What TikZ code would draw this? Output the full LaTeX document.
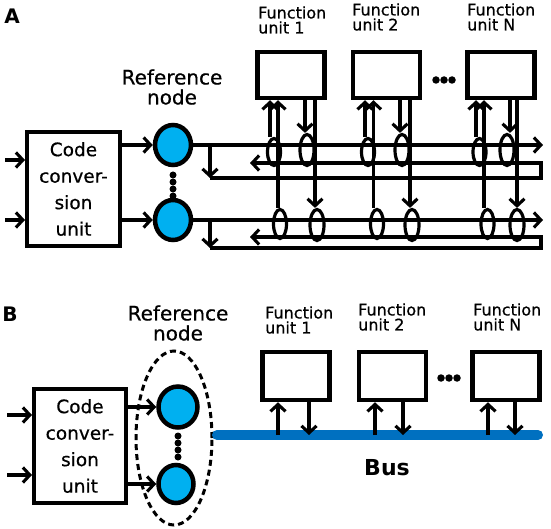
\documentclass[tikz,border=0pt]{standalone}
\usepackage{fontspec}
\setmainfont{DejaVu Sans}
\newfontfamily\lbl{DejaVu Sans}[FakeBold=0.6]
\usetikzlibrary{arrows.meta,shapes.geometric,calc}
\definecolor{nodeblue}{HTML}{00B0F0}
\definecolor{busblue}{HTML}{0070C0}
\begin{document}
\begin{tikzpicture}[x=1pt,y=-1pt,
  conn/.style={line width=3.1pt},
  arr/.style={conn,-{Straight Barb[length=7pt,width=15pt]}},
  codebox/.style={draw,line width=4pt,inner sep=0pt,align=center,
     font=\lbl\fontsize{18.5}{26.5}\selectfont},
  refnode/.style={ellipse,draw,line width=4.5pt,fill=nodeblue,inner sep=0pt},
  dotnode/.style={circle,fill=black,inner sep=0pt,minimum size=7pt},
  reflabel/.style={align=center,inner sep=0pt,font=\lbl\fontsize{20}{20}\selectfont},
  fubox/.style={draw,line width=4.5pt,minimum width=67pt,minimum height=46pt,inner sep=0pt},
  fulabel/.style={align=left,inner sep=0pt,anchor=west,font=\lbl\fontsize{16}{15}\selectfont},
  oval/.style={ellipse,draw,line width=3.2pt,inner sep=0pt},
  panel/.style={font=\bfseries\fontsize{20}{20}\selectfont,inner sep=0pt},
  bus/.style={line width=10pt,draw=busblue,line cap=round}
]
\useasboundingbox (0,0) rectangle (551,529);

% ================= Panel A =================
\node[panel] (labA) at (12,16) {A};
\node[codebox,minimum width=93pt,minimum height=114pt] (codeA) at (73.5,189) {Code\\conver-\\sion\\unit};
\node[refnode,minimum width=36pt,minimum height=40pt] (rA1) at (173,145) {};
\node[refnode,minimum width=36pt,minimum height=40pt] (rA2) at (173,220) {};
\foreach \i/\yy in {1/175,2/182,3/189,4/196}
  \node[dotnode] (dA\i) at (173,\yy) {};
\node[reflabel] (refA) at (172,87) {Reference\\node};

\coordinate (inA1) at (5,160);
\coordinate (inA2) at (5,220);
\draw[arr] (inA1) -- (inA1 -| codeA.west);
\draw[arr] (inA2) -- (inA2 -| codeA.west);
\draw[arr] (codeA.east |- rA1) -- (rA1.west);
\draw[arr] (codeA.east |- rA2) -- (rA2.west);

% top ring
\coordinate (tAf) at (543,145);
\coordinate (tAd1) at (210,145);
\coordinate (tAd2) at (210,178);
\coordinate (tAc1) at (541,178);
\coordinate (tAc2) at (541,163);
\coordinate (tAl) at (250,163);
\draw[arr] (rA1.east) -- (tAf);
\draw[arr] (tAd1) -- (tAd2);
\draw[arr] (tAd2) -- (tAc1) -- (tAc2) -- (tAl);
% bottom ring
\coordinate (bAf) at (543,220);
\coordinate (bAd1) at (210,220);
\coordinate (bAd2) at (210,248);
\coordinate (bAc1) at (541,248);
\coordinate (bAc2) at (541,237);
\coordinate (bAl) at (250,237);
\draw[arr] (rA2.east) -- (bAf);
\draw[arr] (bAd1) -- (bAd2);
\draw[arr] (bAd2) -- (bAc1) -- (bAc2) -- (bAl);

\foreach \k/\cx/\a/\b/\c/\d/\tl/\tr/\bl/\br/\lx/\ly in
  {1/291/270/278/305/315/274/307/280/317/258/20,
   2/386.5/365/373.5/400/410/368/402/377/412/352/17,
   N/501/476/484/510/517/479.5/507/487.5/517/467/17}{
  \node[fubox] (fA\k) at (\cx,75) {};
  \node[fulabel] (lA\k) at (\lx,\ly) {Function\\unit \k};
  \node[oval,minimum width=13pt,minimum height=27pt] (otlA\k) at (\tl,152) {};
  \node[oval,minimum width=14pt,minimum height=31pt] (otrA\k) at (\tr,150) {};
  \node[oval,minimum width=13pt,minimum height=29pt] (oblA\k) at (\bl,224) {};
  \node[oval,minimum width=14pt,minimum height=31pt] (obrA\k) at (\br,225) {};
  \draw[arr] (\a,0 |- otlA\k.north) -- (\a,0 |- fA\k.south);
  \draw[arr] (\b,0 |- oblA\k.north) -- (\b,0 |- fA\k.south);
  \draw[arr] (\c,0 |- fA\k.south) -- (\c,0 |- otrA\k.north);
  \draw[arr] (\d,0 |- fA\k.south) -- (\d,0 |- obrA\k.north);
}
\foreach \i/\xx in {1/436,2/444,3/452}
  \node[dotnode,minimum size=7.5pt] (eA\i) at (\xx,80) {};

% ================= Panel B =================
\node[panel] (labB) at (10,314) {B};
\node[codebox,minimum width=92pt,minimum height=114pt] (codeB) at (80,446) {Code\\conver-\\sion\\unit};
\node[refnode,minimum width=39pt,minimum height=41pt] (rB1) at (178,407) {};
\node[refnode,minimum width=35pt,minimum height=38pt] (rB2) at (176,484) {};
\foreach \i/\yy in {1/436,2/443,3/450,4/457}
  \node[dotnode] (dB\i) at (178,\yy) {};
\node[reflabel] (refB) at (178,323) {Reference\\node};
\node[ellipse,draw,dashed,dash pattern=on 6pt off 4pt,line width=3pt,
      minimum width=76pt,minimum height=174pt,inner sep=0pt] (grpB) at (174,438) {};

\coordinate (inB1) at (7,415);
\coordinate (inB2) at (7,475);
\draw[arr] (inB1) -- (inB1 -| codeB.west);
\draw[arr] (inB2) -- (inB2 -| codeB.west);
\draw[arr] (codeB.east |- rB1) -- (rB1.west);
\draw[arr] (codeB.east |- rB2) -- (rB2.west);

\coordinate (busL) at (217,435);
\coordinate (busR) at (538,435);
\draw[bus] (busL) -- (busR);
\node[font=\bfseries\fontsize{22}{22}\selectfont,inner sep=0pt] (busT) at (387,468) {Bus};

\foreach \k/\cx/\u/\dd/\lx/\ly in
  {1/296/278/309/265/320,
   2/392.5/375/403/358/317,
   N/506/488/515/473/317}{
  \node[fubox,minimum height=48pt] (fB\k) at (\cx,376) {};
  \node[fulabel] (lB\k) at (\lx,\ly) {Function\\unit \k};
  \draw[arr] (\u,0 |- busL) -- (\u,0 |- fB\k.south);
  \draw[arr] (\dd,0 |- fB\k.south) -- (\dd,0 |- busL);
}
\foreach \i/\xx in {1/441,2/449,3/457}
  \node[dotnode,minimum size=7.5pt] (eB\i) at (\xx,378) {};
\end{tikzpicture}
\end{document}
